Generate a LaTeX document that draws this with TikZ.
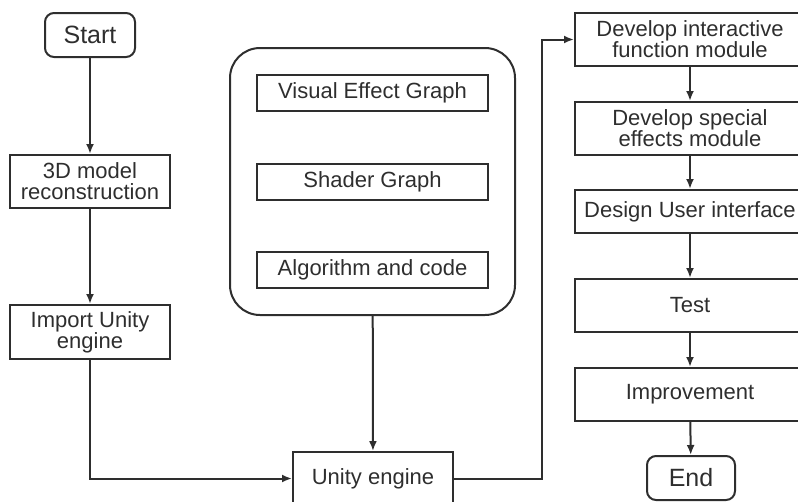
\documentclass[tikz,border=0pt]{standalone}
\usepackage{fontspec}
\setmainfont{Liberation Sans}
\usetikzlibrary{positioning,arrows.meta}

\definecolor{ink}{HTML}{2E2E2E}

\begin{document}
\begin{tikzpicture}[x=1pt,y=-1pt,>={Latex[length=10pt,width=8pt]},line width=2pt,draw=ink,text=ink,
    box/.style={draw=ink,rectangle,align=center,inner sep=0pt,
        font=\fontsize{22}{21}\selectfont},
    term/.style={box,rounded corners=9pt,font=\fontsize{25}{25}\selectfont},
    flow/.style={->,ink}]
    \useasboundingbox (0,0) rectangle (798,501);

    % draw the left column
    \node[term,minimum width=90pt,minimum height=44pt] (start) at (90,35) {Start};
    \node[box,minimum width=160pt,minimum height=53pt] (recon) at (90,181.5) {3D model\\reconstruction};
    \node[box,minimum width=160pt,minimum height=54pt] (import) at (90,332) {Import Unity\\engine};

    % draw the container with the three tools
    \node[draw=ink,rounded corners=30pt,minimum width=285pt,minimum height=267pt] (tools) at (372.5,181.5) {};
    \node[box,minimum width=231pt,minimum height=36pt] (vfx) at (372.5,93) {Visual Effect Graph};
    \node[box,minimum width=231pt,minimum height=36pt] (shader) at (372.5,182) {Shader Graph};
    \node[box,minimum width=231pt,minimum height=36pt] (algo) at (372.5,270) {Algorithm and code};

    \node[box,minimum width=160pt,minimum height=53pt] (unity) at (373,478.5) {Unity engine};

    % draw the right column
    \node[box,minimum width=230pt,minimum height=53pt] (devint) at (690,39.5) {Develop interactive\\function module};
    \node[box,minimum width=230pt,minimum height=53pt] (devsfx) at (690,128.5) {Develop special\\effects module};
    \node[box,minimum width=230pt,minimum height=43pt] (ui) at (690,211.5) {Design User interface};
    \node[box,minimum width=230pt,minimum height=53pt] (test) at (690,305.5) {Test};
    \node[box,minimum width=230pt,minimum height=53pt] (impr) at (690,394.5) {Improvement};
    \node[term,minimum width=88pt,minimum height=44pt] (end) at (691,478) {End};

    % draw the connectors
    \coordinate (bend) at (542,478.5);
    \draw[flow] (start) -- (recon);
    \draw[flow] (recon) -- (import);
    \draw[flow] (import) |- (unity);
    \draw[flow] (tools) -- (unity);
    \draw[flow] (unity) -- (bend) |- (devint);
    \draw[flow] (devint) -- (devsfx);
    \draw[flow] (devsfx) -- (ui);
    \draw[flow] (ui) -- (test);
    \draw[flow] (test) -- (impr);
    \draw[flow] (impr) -- (end);
\end{tikzpicture}
\end{document}
